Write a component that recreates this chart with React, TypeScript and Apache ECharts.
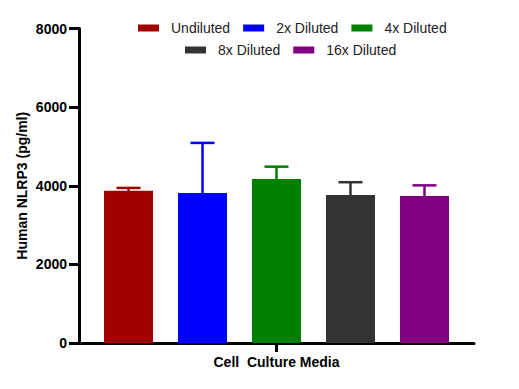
import React, { useEffect, useRef } from "react";
import * as echarts from "echarts";

const categories = ["Cell  Culture Media"];
const seriesNames = ["Undiluted", "2x Diluted", "4x Diluted", "8x Diluted", "16x Diluted"];
const seriesColors = ["#A00000", "#0000FF", "#008000", "#333333", "#800080"];
const means = [3870, 3815, 4170, 3765, 3740];
const upperErrors = [3945, 5090, 4485, 4090, 4010];
const yTicks = [0, 2000, 4000, 6000, 8000];
const legendRow1 = ["Undiluted", "2x Diluted", "4x Diluted"];
const legendRow2 = ["8x Diluted", "16x Diluted"];

const FONT = '"Liberation Sans", Arial, Helvetica, sans-serif';
const BAR_WIDTH = 49;
const BAR_GAP_RATIO = 0.51;

export default function App() {
  const ref = useRef<HTMLDivElement>(null);

  useEffect(() => {
    document.body.style.margin = "0";
    if (!ref.current) return;
    const chart = echarts.init(ref.current, undefined, { renderer: "svg" });

    const barSeries = seriesNames.map((name, i) => ({
      name,
      type: "bar",
      data: [means[i]],
      barWidth: BAR_WIDTH,
      barGap: `${Math.round(BAR_GAP_RATIO * 100)}%`,
      itemStyle: { color: seriesColors[i] },
      z: 2,
    }));

    const errorData = seriesNames.map((_, i) => [0, means[i], upperErrors[i], i]);

    const legendBase = {
      itemWidth: 21,
      itemHeight: 7,
      itemGap: 13,
      padding: 0,
      icon: "rect",
      selectedMode: false,
      textStyle: { fontFamily: FONT, fontSize: 14, color: "#222222", padding: [0, 0, 0, 7] },
    };

    const option: any = {
      animation: false,
      backgroundColor: "#ffffff",
      textStyle: { fontFamily: FONT },
      legend: [
        { ...legendBase, data: legendRow1, left: 138, top: 21 },
        { ...legendBase, data: legendRow2, left: 185, top: 43 },
      ],
      grid: { left: 79, right: 45, top: 28.5, bottom: 46, containLabel: false },
      xAxis: {
        type: "category",
        data: [""],
        name: categories[0],
        nameLocation: "middle",
        nameGap: 12,
        nameMoveOverlap: false,
        nameTextStyle: { fontFamily: FONT, fontSize: 14, fontWeight: "bold", color: "#000" },
        axisLine: { lineStyle: { color: "#000", width: 3 } },
        axisTick: { show: true, alignWithLabel: true, length: 9, lineStyle: { color: "#000", width: 3 } },
        axisLabel: { show: false },
      },
      yAxis: {
        type: "value",
        min: yTicks[0],
        max: yTicks[yTicks.length - 1],
        interval: yTicks[1] - yTicks[0],
        name: "Human NLRP3 (pg/ml)",
        nameLocation: "middle",
        nameGap: 50,
        nameMoveOverlap: false,
        nameTextStyle: { fontFamily: FONT, fontSize: 14, fontWeight: "bold", color: "#000" },
        axisLine: { show: true, lineStyle: { color: "#000", width: 3 } },
        axisTick: { show: true, length: 10, lineStyle: { color: "#000", width: 3 } },
        axisLabel: {
          fontFamily: FONT,
          fontSize: 14,
          fontWeight: "bold",
          color: "#000",
          margin: 12,
          formatter: (v: number) => String(v),
        },
        splitLine: { show: false },
      },
      series: [
        ...barSeries,
        {
          type: "custom",
          name: "errors",
          data: errorData,
          encode: { x: 0, y: [1, 2] },
          z: 3,
          silent: true,
          renderItem: (params: any, api: any) => {
            const idx = api.value(3);
            const base = api.coord([api.value(0), api.value(1)]);
            const top = api.coord([api.value(0), api.value(2)]);
            const step = BAR_WIDTH * (1 + BAR_GAP_RATIO);
            const x = base[0] + (idx - (seriesNames.length - 1) / 2) * step;
            const color = seriesColors[idx];
            const half = 12;
            return {
              type: "group",
              children: [
                {
                  type: "line",
                  shape: { x1: x, y1: base[1], x2: x, y2: top[1] },
                  style: { stroke: color, lineWidth: 2.5 },
                },
                {
                  type: "line",
                  shape: { x1: x - half, y1: top[1], x2: x + half, y2: top[1] },
                  style: { stroke: color, lineWidth: 2.5 },
                },
              ],
            };
          },
        },
      ],
    };

    chart.setOption(option);
    return () => chart.dispose();
  }, []);

  return <div ref={ref} style={{ width: 519, height: 389 }} />;
}
